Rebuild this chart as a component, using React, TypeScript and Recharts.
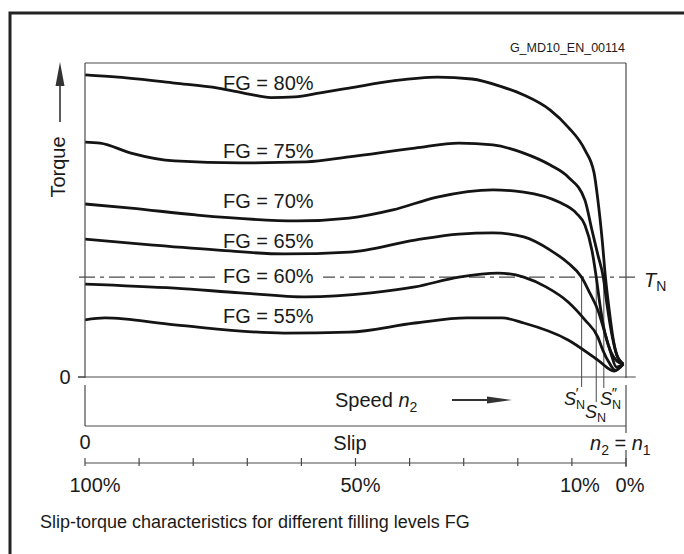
import React from "react";
import { LineChart, Line, XAxis, YAxis, ReferenceLine } from "recharts";

// filling levels, speed n2 in % of n1, torque in % of the plot height
const fillingLevels = ["80%", "75%", "70%", "65%", "60%", "55%"];

const speed80 = [0, 6.1, 16.6, 24.6, 30.0, 34.4, 38.8, 43.5, 48.8, 56.9, 65.1, 71.5, 77.1, 81.1, 86.0, 89.3, 92.4, 94.1, 94.8, 95.6, 96.2, 96.9, 97.6, 98.3, 99.5];
const torque80 = [96.2, 95.5, 93.6, 92.0, 90.2, 89.0, 89.2, 90.5, 92.0, 94.3, 95.5, 94.9, 92.4, 89.8, 85.0, 79.6, 72.3, 65.0, 56.4, 43.6, 31.8, 21.3, 12.4, 7.0, 4.1];

const speed75 = [0, 2.8, 8.5, 16.6, 28.7, 40.9, 48.8, 61.0, 69.1, 75.4, 81.1, 86.0, 89.3, 92.4, 93.7, 94.8, 95.8, 96.5, 97.4, 98.3, 99.5];
const torque75 = [74.8, 74.5, 71.3, 68.8, 68.2, 68.5, 70.1, 72.9, 74.5, 73.9, 71.3, 67.5, 63.7, 56.4, 46.8, 38.9, 31.8, 22.9, 13.4, 7.0, 4.1];

const speed70 = [0, 8.5, 20.5, 39.2, 48.8, 56.9, 65.1, 75.4, 81.1, 87.6, 90.8, 92.4, 93.7, 94.5, 95.2, 96.1, 97.2, 98.3, 99.5];
const torque70 = [55.1, 53.8, 51.6, 49.7, 50.6, 53.2, 57.3, 59.6, 58.9, 55.7, 52.2, 48.4, 40.4, 31.8, 22.9, 14.0, 8.0, 5.1, 4.1];

const speed65 = [0, 12.6, 24.6, 36.8, 48.8, 61.0, 69.1, 75.4, 81.1, 86.0, 89.3, 91.8, 93.3, 94.8, 96.1, 97.2, 98.2, 99.5];
const torque65 = [43.9, 42.0, 40.4, 39.2, 39.8, 43.6, 45.5, 45.9, 44.6, 40.4, 36.3, 31.8, 26.8, 21.3, 14.0, 7.6, 3.2, 4.1];

const speed60 = [0, 16.6, 28.7, 40.9, 52.9, 61.0, 69.1, 76.3, 81.1, 85.2, 89.3, 92.4, 94.8, 95.7, 96.9, 98.0, 99.5];
const torque60 = [29.6, 28.3, 26.8, 25.5, 26.8, 28.7, 31.8, 33.1, 31.8, 28.7, 23.9, 18.2, 12.7, 8.6, 4.5, 2.2, 4.1];

const speed55 = [0, 3.7, 16.6, 36.8, 48.8, 61.0, 70.6, 77.1, 81.1, 89.3, 94.8, 97.8, 99.5];
const torque55 = [18.2, 18.8, 16.6, 14.0, 14.3, 17.2, 18.8, 18.8, 17.2, 11.8, 5.4, 1.9, 4.1];

const speeds = [speed80, speed75, speed70, speed65, speed60, speed55];
const torques = [torque80, torque75, torque70, torque65, torque60, torque55];

// nominal torque and the speeds where the curves cross it
const nominalTorque = 31.8;
const nominalSpeeds = [91.8, 94.5, 95.9];

// slip axis
const slipTicks = [100, 90, 80, 70, 60, 50, 40, 30, 20, 10, 0];
const slipLabels: Record<number, string> = { 100: "100%", 50: "50%", 10: "10%", 0: "0%" };

const FONT = "'Liberation Sans', Arial, Helvetica, sans-serif";
const INK = "#1a1a1a";
const RULE = "#4a4a4a";

const series = fillingLevels.map((fg, i) => ({
  name: `FG = ${fg}`,
  data: speeds[i].map((x, j) => ({ x, y: torques[i][j] })),
}));

const labelShift: Record<number, number> = { 100: 10, 50: 5, 10: 8, 0: 4 };

const SlipTick = (props: any) => {
  const { x, y, payload } = props;
  const slip = Math.round(100 - payload.value);
  const label = slipLabels[slip];
  return (
    <g>
      <line x1={x} x2={x} y1={y - 5} y2={y + 3} stroke={RULE} strokeWidth={1.2} />
      {label && (
        <text x={x + (labelShift[slip] || 0)} y={y + 29} textAnchor="middle" fontSize={20} fill={INK} fontFamily={FONT}>
          {label}
        </text>
      )}
    </g>
  );
};

const labelBaselines = [90, 158, 208, 248, 283, 323];
const sEnds = [-3.2, -8.0, -3.5];

export default function App() {
  return (
    <div style={{ position: "absolute", left: 0, top: 0, width: 684, height: 554, background: "#fff" }}>
      <LineChart
        width={684}
        height={554}
        margin={{ top: 63, right: 58, bottom: 51, left: 60 }}
        style={{ fontFamily: FONT }}
      >
        <XAxis xAxisId={0} type="number" dataKey="x" domain={[0, 100]} height={86} axisLine={false} tickLine={false} tick={false} allowDataOverflow />
        <XAxis
          xAxisId={1}
          type="number"
          dataKey="x"
          domain={[0, 100]}
          ticks={slipTicks.map((s) => 100 - s)}
          interval={0}
          height={40}
          axisLine={{ stroke: RULE, strokeWidth: 1.2 }}
          tickLine={false}
          tickSize={0}
          tickMargin={0}
          tick={<SlipTick />}
          allowDataOverflow
        />
        <YAxis
          type="number"
          domain={[0, 100]}
          ticks={[0]}
          width={25}
          axisLine={false}
          tickLine={{ stroke: RULE, strokeWidth: 1.2 }}
          tickSize={7}
          tickMargin={7.5}
          tick={{ fontSize: 20, fill: INK, fontFamily: FONT }}
          allowDataOverflow
        />
        <ReferenceLine
          xAxisId={0}
          segment={[{ x: -1.3, y: 0 }, { x: 101.8, y: 0 }]}
          stroke={RULE}
          strokeWidth={1.2}
          ifOverflow="visible"
        />
        <ReferenceLine
          xAxisId={0}
          segment={[{ x: -1.1, y: nominalTorque }, { x: 101.7, y: nominalTorque }]}
          stroke={RULE}
          strokeWidth={1.2}
          strokeDasharray="16 5 4 5"
          ifOverflow="visible"
        />
        {nominalSpeeds.map((s, i) => (
          <ReferenceLine
            key={s}
            xAxisId={0}
            segment={[{ x: s, y: nominalTorque }, { x: s, y: sEnds[i] }]}
            stroke={RULE}
            strokeWidth={1}
            ifOverflow="visible"
          />
        ))}
        {series.map((s) => (
          <Line
            key={s.name}
            xAxisId={0}
            data={s.data}
            dataKey="y"
            type="monotone"
            stroke="#141414"
            strokeWidth={2.8}
            dot={false}
            activeDot={false}
            isAnimationActive={false}
          />
        ))}
      </LineChart>

      <svg
        width={684}
        height={554}
        style={{ position: "absolute", left: 0, top: 0, pointerEvents: "none" }}
        fontFamily={FONT}
        fill={INK}
      >
        <path d="M10 554 V13 H684" fill="none" stroke="#222" strokeWidth={3} />
        <g stroke={RULE} strokeWidth={1.2}>
          <line x1={85} y1={63} x2={626} y2={63} />
          <line x1={85} y1={63} x2={85} y2={378} />
          <line x1={85} y1={385} x2={85} y2={426} />
          <line x1={626} y1={63} x2={626} y2={378} />
          <line x1={626} y1={385} x2={626} y2={433} />
          <line x1={626} y1={450} x2={626} y2={467} />
          <line x1={85} y1={426} x2={626} y2={426} />
        </g>

        <text x={625} y={52} textAnchor="end" fontSize={12.5}>G_MD10_EN_00114</text>

        {/* torque arrow */}
        <line x1={60} y1={84} x2={60} y2={122} stroke="#333" strokeWidth={1.6} />
        <polygon points="60,62 55.5,86 64.5,86" fill="#333" />
        <text x={65} y={167} transform="rotate(-90 65 167)" textAnchor="middle" fontSize={20}>Torque</text>

        {/* filling level labels */}
        <rect x={219} y={265} width={104} height={22} fill="#fff" />
        {series.map((s, i) => (
          <text key={s.name} x={223} y={labelBaselines[i]} fontSize={20}>{s.name}</text>
        ))}

        {/* nominal torque */}
        <text x={644} y={287} fontSize={20}>
          <tspan fontStyle="italic">T</tspan>
          <tspan fontSize={14} dy={4}>N</tspan>
        </text>

        {/* nominal slips */}
        <text x={564} y={405} fontSize={18}>
          <tspan fontStyle="italic">S</tspan>
          <tspan fontSize={12.5} dy={4}>N</tspan>
        </text>
        <text x={575} y={398} fontSize={15} fontStyle="italic">′</text>
        <text x={585} y={418} fontSize={18}>
          <tspan fontStyle="italic">S</tspan>
          <tspan fontSize={12.5} dy={4}>N</tspan>
        </text>
        <text x={600} y={405} fontSize={18}>
          <tspan fontStyle="italic">S</tspan>
          <tspan fontSize={12.5} dy={4}>N</tspan>
        </text>
        <text x={611} y={398} fontSize={15} fontStyle="italic">″</text>

        {/* speed */}
        <text x={335} y={407} fontSize={20}>
          Speed <tspan fontStyle="italic">n</tspan>
          <tspan fontSize={14} dy={5}>2</tspan>
        </text>
        <line x1={452} y1={400} x2={490} y2={400} stroke="#333" strokeWidth={1.8} />
        <polygon points="487,396.5 512,400 487,403.5" fill="#333" />

        <text x={85} y={449} textAnchor="middle" fontSize={20}>0</text>
        <text x={350} y={450} textAnchor="middle" fontSize={20}>Slip</text>
        <text x={590} y={450} fontSize={20}>
          <tspan fontStyle="italic">n</tspan>
          <tspan fontSize={14} dy={5}>2</tspan>
          <tspan dy={-5}> = </tspan>
          <tspan fontStyle="italic">n</tspan>
          <tspan fontSize={14} dy={5}>1</tspan>
        </text>

        <text x={40} y={528} fontSize={18}>Slip-torque characteristics for different filling levels FG</text>
      </svg>
    </div>
  );
}
